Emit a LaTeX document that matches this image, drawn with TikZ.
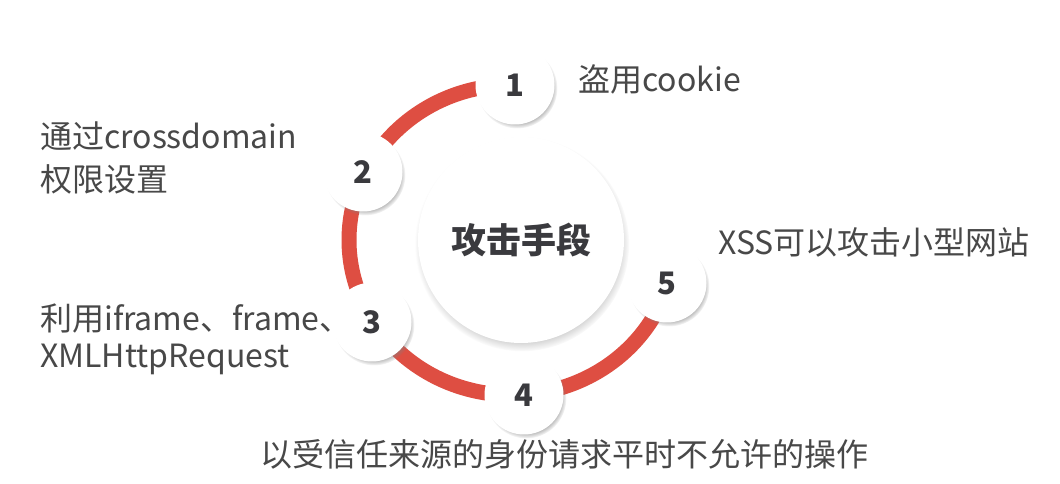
\documentclass[tikz,border=0pt]{standalone}
\usepackage{fontspec}
\setmainfont{Noto Sans CJK SC}
\usetikzlibrary{shadows}
\definecolor{ringred}{RGB}{222,78,66}
\definecolor{labelgray}{RGB}{72,72,72}
\definecolor{numgray}{RGB}{58,58,62}
\tikzset{
    num/.style={circle, fill=white, draw=white, line width=3pt, minimum size=76pt, inner sep=0pt,
        font=\fontsize{31}{31}\selectfont\bfseries, text=numgray,
        circular drop shadow={shadow xshift=2pt, shadow yshift=-3pt, shadow scale=1.06, opacity=.6}},
    hub/.style={circle, fill=white, minimum size=206pt, inner sep=0pt,
        font=\fontsize{35}{35}\selectfont\bfseries, text=numgray,
        circular drop shadow={shadow xshift=1pt, shadow yshift=-4pt, shadow scale=1.04, opacity=.55}},
    lbl/.style={inner sep=0pt, align=left, text=labelgray, font=\fontsize{32}{42}\selectfont}
}
\begin{document}
\begin{tikzpicture}[x=1pt, y=1pt]
    \useasboundingbox[fill=white] (0,0) rectangle (1060,484);
    \coordinate (ring) at (512,244);
    \draw[ringred, line width=15pt] (ring) ++(89:163 and 155)
        arc[start angle=89, end angle=343, x radius=163, y radius=155];
    \node[hub] (hub) at (521,244) {攻击手段};
    \node[num] (n1) at (515,399) {1};
    \node[num] (n2) at (363,312) {2};
    \node[num] (n3) at (372,162) {3};
    \node[num] (n4) at (524,89) {4};
    \node[num] (n5) at (667,201) {5};
    \node[lbl, anchor=base west] (t1) at (578,392) {盗用cookie};
    \node[lbl, anchor=north west] (t2) at (40,362) {通过crossdomain\\[1pt]权限设置};
    \node[lbl, anchor=base west] (t5) at (718,229) {XSS可以攻击小型网站};
    \node[lbl, anchor=north west] (t3) at (40,180) {利用iframe、frame、\\[-5pt]XMLHttpRequest};
    \node[lbl, anchor=base] (t4) at (564,17) {以受信任来源的身份请求平时不允许的操作};
\end{tikzpicture}
\end{document}
